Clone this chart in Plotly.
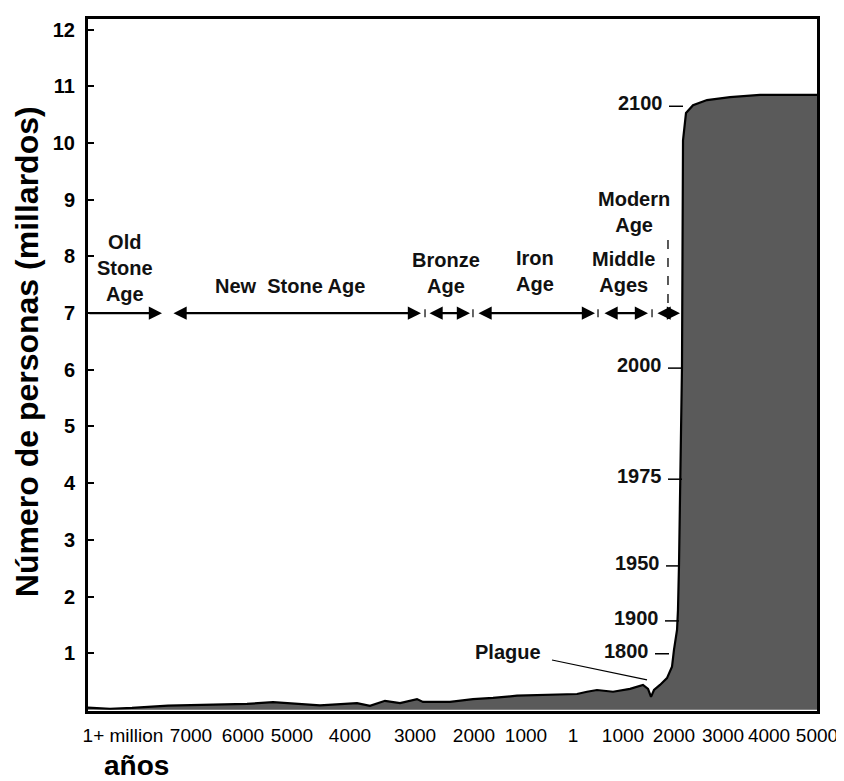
import plotly.graph_objects as go

# ---------------- data ----------------
# x axis: position along the (non-linear) timeline, 0..100
tick_pos = [4.8, 14.13, 21.26, 27.98, 35.94, 44.86, 52.95, 60.08, 66.53, 73.39, 80.38, 87.11, 93.42, 100.0]
tick_text = ["1+ million", "7000", "6000", "5000", "4000", "3000", "2000", "1000", "1",
             "1000", "2000", "3000", "4000", "5000"]

# world population outline (billions) along the timeline
pop_pos = [0, 3.02, 6.04, 10.97, 21.81, 25.38, 31.82, 36.9, 38.68, 40.74, 42.8, 44.17, 45.13,
           45.95, 49.66, 52.81, 55.56, 58.85, 62.96, 67.08, 68.45, 69.82, 72.02, 74.35, 76.13,
           76.82, 77.23, 77.64, 78.46, 79.42, 80.11, 80.38, 80.8, 80.93, 81.07, 81.21, 81.34,
           81.48, 81.62, 82.03, 82.99, 84.91, 88.07, 92.18, 100]
pop_vals = [0.04, 0.02, 0.035, 0.075, 0.105, 0.135, 0.08, 0.12, 0.07, 0.16, 0.12, 0.16, 0.19,
            0.14, 0.14, 0.19, 0.21, 0.25, 0.26, 0.28, 0.32, 0.35, 0.32, 0.37, 0.44,
            0.37, 0.23, 0.35, 0.44, 0.56, 0.76, 1.06, 1.41, 1.76, 2.56, 4.09, 5.59,
            6.05, 10.05, 10.53, 10.67, 10.76, 10.81, 10.85, 10.85]

y_ticks = [1, 2, 3, 4, 5, 6, 7, 8, 9, 10, 11, 12]

# historical ages (timeline start / end) and their labels
age_labels = ["Old<br>Stone<br>Age", "New  Stone Age", "Bronze<br>Age", "Iron<br>Age",
              "Middle<br>Ages", "Modern<br>Age"]
age_label_x = [5.08, 27.7, 49.1, 61.3, 73.4, 74.9]
age_label_y = [7.8, 7.48, 7.70, 7.75, 7.72, 8.78]
age_start = [0, 11.52, 46.64, 53.36, 70.64, 77.91]
age_end = [10.15, 45.68, 52.4, 69.55, 76.82, 81.21]
age_both_heads = [False, True, True, True, True, True]
age_separators = [46.23, 52.81, 69.96, 77.37]
age_row = 7.0
modern_divider_x = 79.56
modern_divider_y = [7.18, 8.41]

# year markers along the curve
year_labels = ["2100", "2000", "1975", "1950", "1900", "1800"]
year_pop = [10.65, 6.03, 4.07, 2.54, 1.57, 0.99]
year_x = [81.62, 81.48, 81.48, 81.21, 81.07, 79.7]

plague_text_pos = (57.6, 1.02)
plague_line = ([63.65, 76.68], [0.88, 0.53])

FONT = "Liberation Sans, Arial, sans-serif"
NARROW = "Liberation Sans Narrow, Arial Narrow, Liberation Sans, Arial, sans-serif"
LABEL_FONT = dict(family=FONT, size=20, color="#111", weight="bold")

fig = go.Figure()
fig.add_trace(go.Scatter(
    x=pop_pos, y=pop_vals, mode="lines", fill="tozeroy",
    fillcolor="#5a5a5a", line=dict(color="black", width=2.2),
    hoverinfo="skip", showlegend=False))

annotations = []
shapes = []

# age labels
for t, x, y in zip(age_labels, age_label_x, age_label_y):
    annotations.append(dict(x=x, y=y, xref="x", yref="y", text=t, showarrow=False,
                            font=LABEL_FONT, xanchor="center", yanchor="middle",
                            align="center"))
# age arrows
for s, e, both in zip(age_start, age_end, age_both_heads):
    annotations.append(dict(x=e, y=age_row, ax=s, ay=age_row, xref="x", yref="y",
                            axref="x", ayref="y", text="", showarrow=True,
                            arrowhead=2, arrowsize=1.1, arrowwidth=2.4,
                            arrowside="end+start" if both else "end",
                            arrowcolor="black"))
for sx in age_separators:
    shapes.append(dict(type="line", xref="x", yref="y", ysizemode="pixel", yanchor=age_row,
                       x0=sx, x1=sx, y0=-4, y1=4, line=dict(color="black", width=1.2)))
shapes.append(dict(type="line", xref="x", yref="y", x0=modern_divider_x, x1=modern_divider_x,
                   y0=modern_divider_y[0], y1=modern_divider_y[1],
                   line=dict(color="black", width=1.3, dash="dash")))

# year markers
for lab, yv, xv in zip(year_labels, year_pop, year_x):
    annotations.append(dict(x=xv, y=yv, xref="x", yref="y", text=lab, showarrow=False,
                            xanchor="right", yanchor="middle", xshift=-18, yshift=3,
                            font=LABEL_FONT))
    shapes.append(dict(type="line", xref="x", yref="y", xsizemode="pixel", xanchor=xv,
                       x0=-14, x1=0, y0=yv, y1=yv, line=dict(color="black", width=1.5)))

# plague
annotations.append(dict(x=plague_text_pos[0], y=plague_text_pos[1], xref="x", yref="y",
                        text="Plague", showarrow=False, xanchor="center", yanchor="middle",
                        font=LABEL_FONT))
shapes.append(dict(type="line", xref="x", yref="y", x0=plague_line[0][0], x1=plague_line[0][1],
                   y0=plague_line[1][0], y1=plague_line[1][1],
                   line=dict(color="black", width=1.2)))

# axis titles
annotations.append(dict(x=-0.0837, y=0.52, xref="paper", yref="paper",
                        text="Número de personas (millardos)", textangle=-90, showarrow=False,
                        xanchor="center", yanchor="middle",
                        font=dict(family=FONT, size=32, color="black", weight="bold")))
annotations.append(dict(x=0.0672, y=-0.079, xref="paper", yref="paper", text="años",
                        showarrow=False, xanchor="center", yanchor="middle",
                        font=dict(family=FONT, size=28, color="black", weight="bold")))

# the page body adds an 8px margin, so the figure is sized to fit the 844x781 window
fig.update_layout(
    width=836, height=773,
    margin=dict(l=80, r=27, t=11, b=70, autoexpand=False),
    paper_bgcolor="white", plot_bgcolor="white",
    showlegend=False,
    annotations=annotations, shapes=shapes,
    font=dict(family=FONT, color="black"),
)
fig.update_xaxes(range=[0, 100], tickvals=tick_pos, ticktext=tick_text, ticks="",
                 showgrid=False, zeroline=False, showline=True, linecolor="black",
                 linewidth=3, mirror=True, ticklabelstandoff=5, automargin=False,
                 tickfont=dict(family=NARROW, size=19, color="black"))
fig.update_yaxes(range=[-0.02, 12.19], tickvals=y_ticks, ticks="inside", ticklen=6,
                 tickwidth=2, tickcolor="black", showgrid=False, zeroline=False,
                 showline=True, linecolor="black", linewidth=3, mirror=True,
                 ticklabelstandoff=6, automargin=False,
                 tickfont=dict(family=FONT, size=20, color="black", weight="bold"))

fig.write_html("out.html")
